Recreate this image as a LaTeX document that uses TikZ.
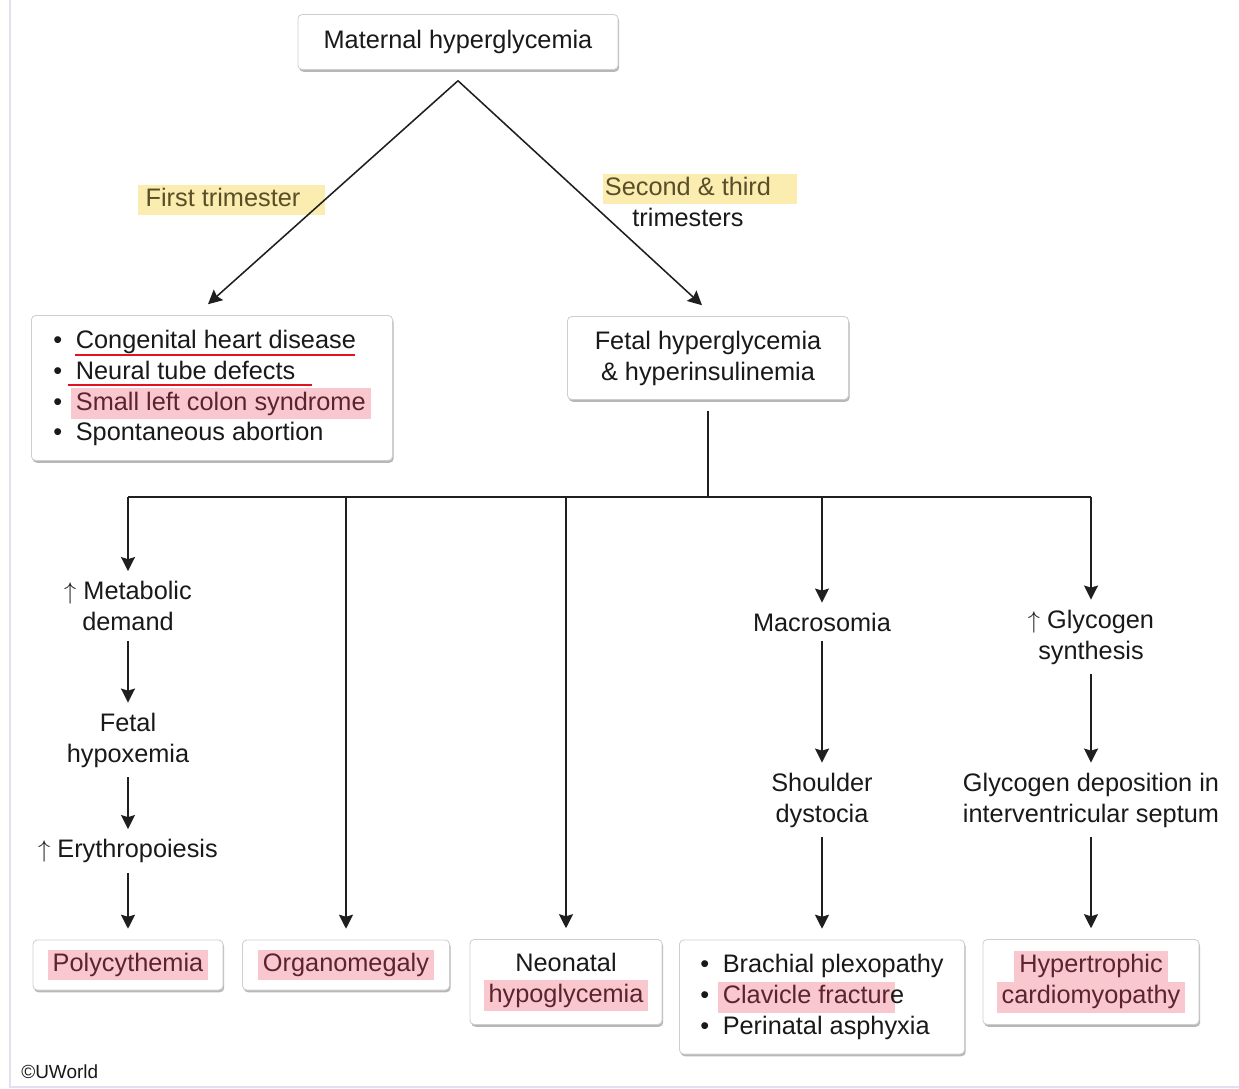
\documentclass[tikz,border=0pt]{standalone}
\usepackage{fontspec}
\setmainfont{Liberation Sans}
\usepackage{tikz}
\usetikzlibrary{arrows.meta, shadows}

\definecolor{hlpink}{RGB}{249,200,206}
\definecolor{hlyellow}{RGB}{251,236,176}
\definecolor{hltext}{RGB}{92,34,48}
\definecolor{ylwtext}{RGB}{88,78,40}
\definecolor{boxline}{RGB}{206,206,206}
\definecolor{frameline}{RGB}{223,225,240}
\definecolor{ulred}{RGB}{226,18,32}

\newcommand{\itm}{\makebox[16pt][l]{\textbullet}}
\newcommand{\hlp}[1]{{\setlength{\fboxsep}{0.5pt}\hspace*{-3.5pt}\colorbox{hlpink}{\rule[-6pt]{0pt}{21pt}\hspace{3pt}\color{hltext}#1\hspace{3pt}}\hspace*{-3.5pt}}}
\newcommand{\hly}[3]{{\setlength{\fboxsep}{0.5pt}\hspace*{\dimexpr-#1-0.5pt\relax}\colorbox{hlyellow}{\rule[-6pt]{0pt}{21pt}\hspace{#1}\color{ylwtext}#3\hspace{#2}}\hspace*{\dimexpr-#2-0.5pt\relax}}}

\begin{document}
\begin{tikzpicture}[x=0.025cm, y=-0.025cm,
  font=\fontsize{18}{22}\selectfont, text=black!90,
  box/.style={draw=boxline, line width=0.6pt, rounded corners=3pt, fill=white,
              align=center, outer sep=8pt,
              drop shadow={shadow xshift=0.8pt, shadow yshift=-1.6pt, fill=black!40, opacity=0.7}},
  lst/.style={box, align=left},
  txt/.style={align=center, inner sep=7pt},
  arr/.style={-{Stealth[length=10pt, width=10pt, inset=1.5pt]}, line width=1.1pt, black!88},
  ln/.style={line width=1.1pt, black!88}]
\useasboundingbox (0,0) rectangle (1239,1089);
\draw[frameline, line width=2pt] (10,0) -- (10,1087) -- (1239,1087);

\node[box, minimum width=8cm, minimum height=1.375cm] (mat) at (458,42) {Maternal hyperglycemia};
\node[lst, minimum width=9.025cm, minimum height=3.625cm] (first) at (212,388)
  {\itm Congenital heart disease\\ \itm Neural tube defects\\ \itm \hlp{Small left colon syndrome}\\ \itm Spontaneous abortion};
\node[box, minimum width=7.025cm, minimum height=2.075cm] (fetal) at (708,358) {Fetal hyperglycemia\\ \& hyperinsulinemia};
\draw[ulred, line width=1.3pt] (75,355) -- (355,355);
\draw[ulred, line width=1.3pt] (68,385) -- (312,385);

\node (tri1) at (223,200) {\hly{5pt}{17pt}{First trimester}};
\node[align=center] (tri2) at (688,200) {\hly{1pt}{18pt}{Second \& third}\\ trimesters};
\draw[arr] (mat.south) -- ([xshift=-0.1cm]first.north);
\draw[arr] (mat.south) -- ([xshift=-0.15cm]fetal.north);

\coordinate (jn) at (708,497);
\coordinate (b1) at (128,497);
\coordinate (b2) at (346,497);
\coordinate (b3) at (566,497);
\coordinate (b4) at (822,497);
\coordinate (b5) at (1091,497);
\draw[ln] (fetal) -- (jn);
\draw[ln] (b1) -- (b5);

\node[txt] (meta) at (128,606) {$\uparrow$ Metabolic\\demand};
\node[txt] (hypox) at (128,740) {Fetal\\hypoxemia};
\node[txt] (eryth) at (128,851) {$\uparrow$ Erythropoiesis};
\node[txt] (macro) at (822,622) {Macrosomia};
\node[txt] (shoulder) at (822,800) {Shoulder\\dystocia};
\node[txt] (glysyn) at (1091,637) {$\uparrow$ Glycogen\\synthesis};
\node[txt] (glydep) at (1091,800) {Glycogen deposition in\\interventricular septum};

\node[box, minimum width=4.75cm, minimum height=1.25cm] (poly) at (128,965) {\hlp{Polycythemia}};
\node[box, minimum width=5.175cm, minimum height=1.25cm] (organ) at (346,965) {\hlp{Organomegaly}};
\node[box, minimum width=4.8cm, minimum height=2.125cm] (neo) at (566,982) {Neonatal\\ \hlp{hypoglycemia}};
\node[lst, minimum width=7.125cm, minimum height=2.85cm] (birth) at (822,997)
  {\itm Brachial plexopathy\\ \itm \hlp{Clavicle fractur}e\\ \itm Perinatal asphyxia};
\node[box, minimum width=5.4cm, minimum height=2.125cm] (hcm) at (1091,982) {\hlp{Hypertrophic}\\ \hlp{cardiomyopathy}};

\draw[arr] (b1) -- (meta);
\draw[arr] (meta) -- (hypox);
\draw[arr] (hypox) -- (eryth);
\draw[arr] (eryth) -- (poly);
\draw[arr] (b2) -- (organ);
\draw[arr] (b3) -- (neo);
\draw[arr] (b4) -- (macro);
\draw[arr] (macro) -- (shoulder);
\draw[arr] (shoulder) -- (birth);
\draw[arr] (b5) -- (glysyn);
\draw[arr] (glysyn) -- (glydep);
\draw[arr] (glydep) -- (hcm);

\node[anchor=west, inner sep=0pt, font=\fontsize{13.5}{15}\selectfont] (uw) at (21,1072) {\copyright UWorld};
\end{tikzpicture}
\end{document}
